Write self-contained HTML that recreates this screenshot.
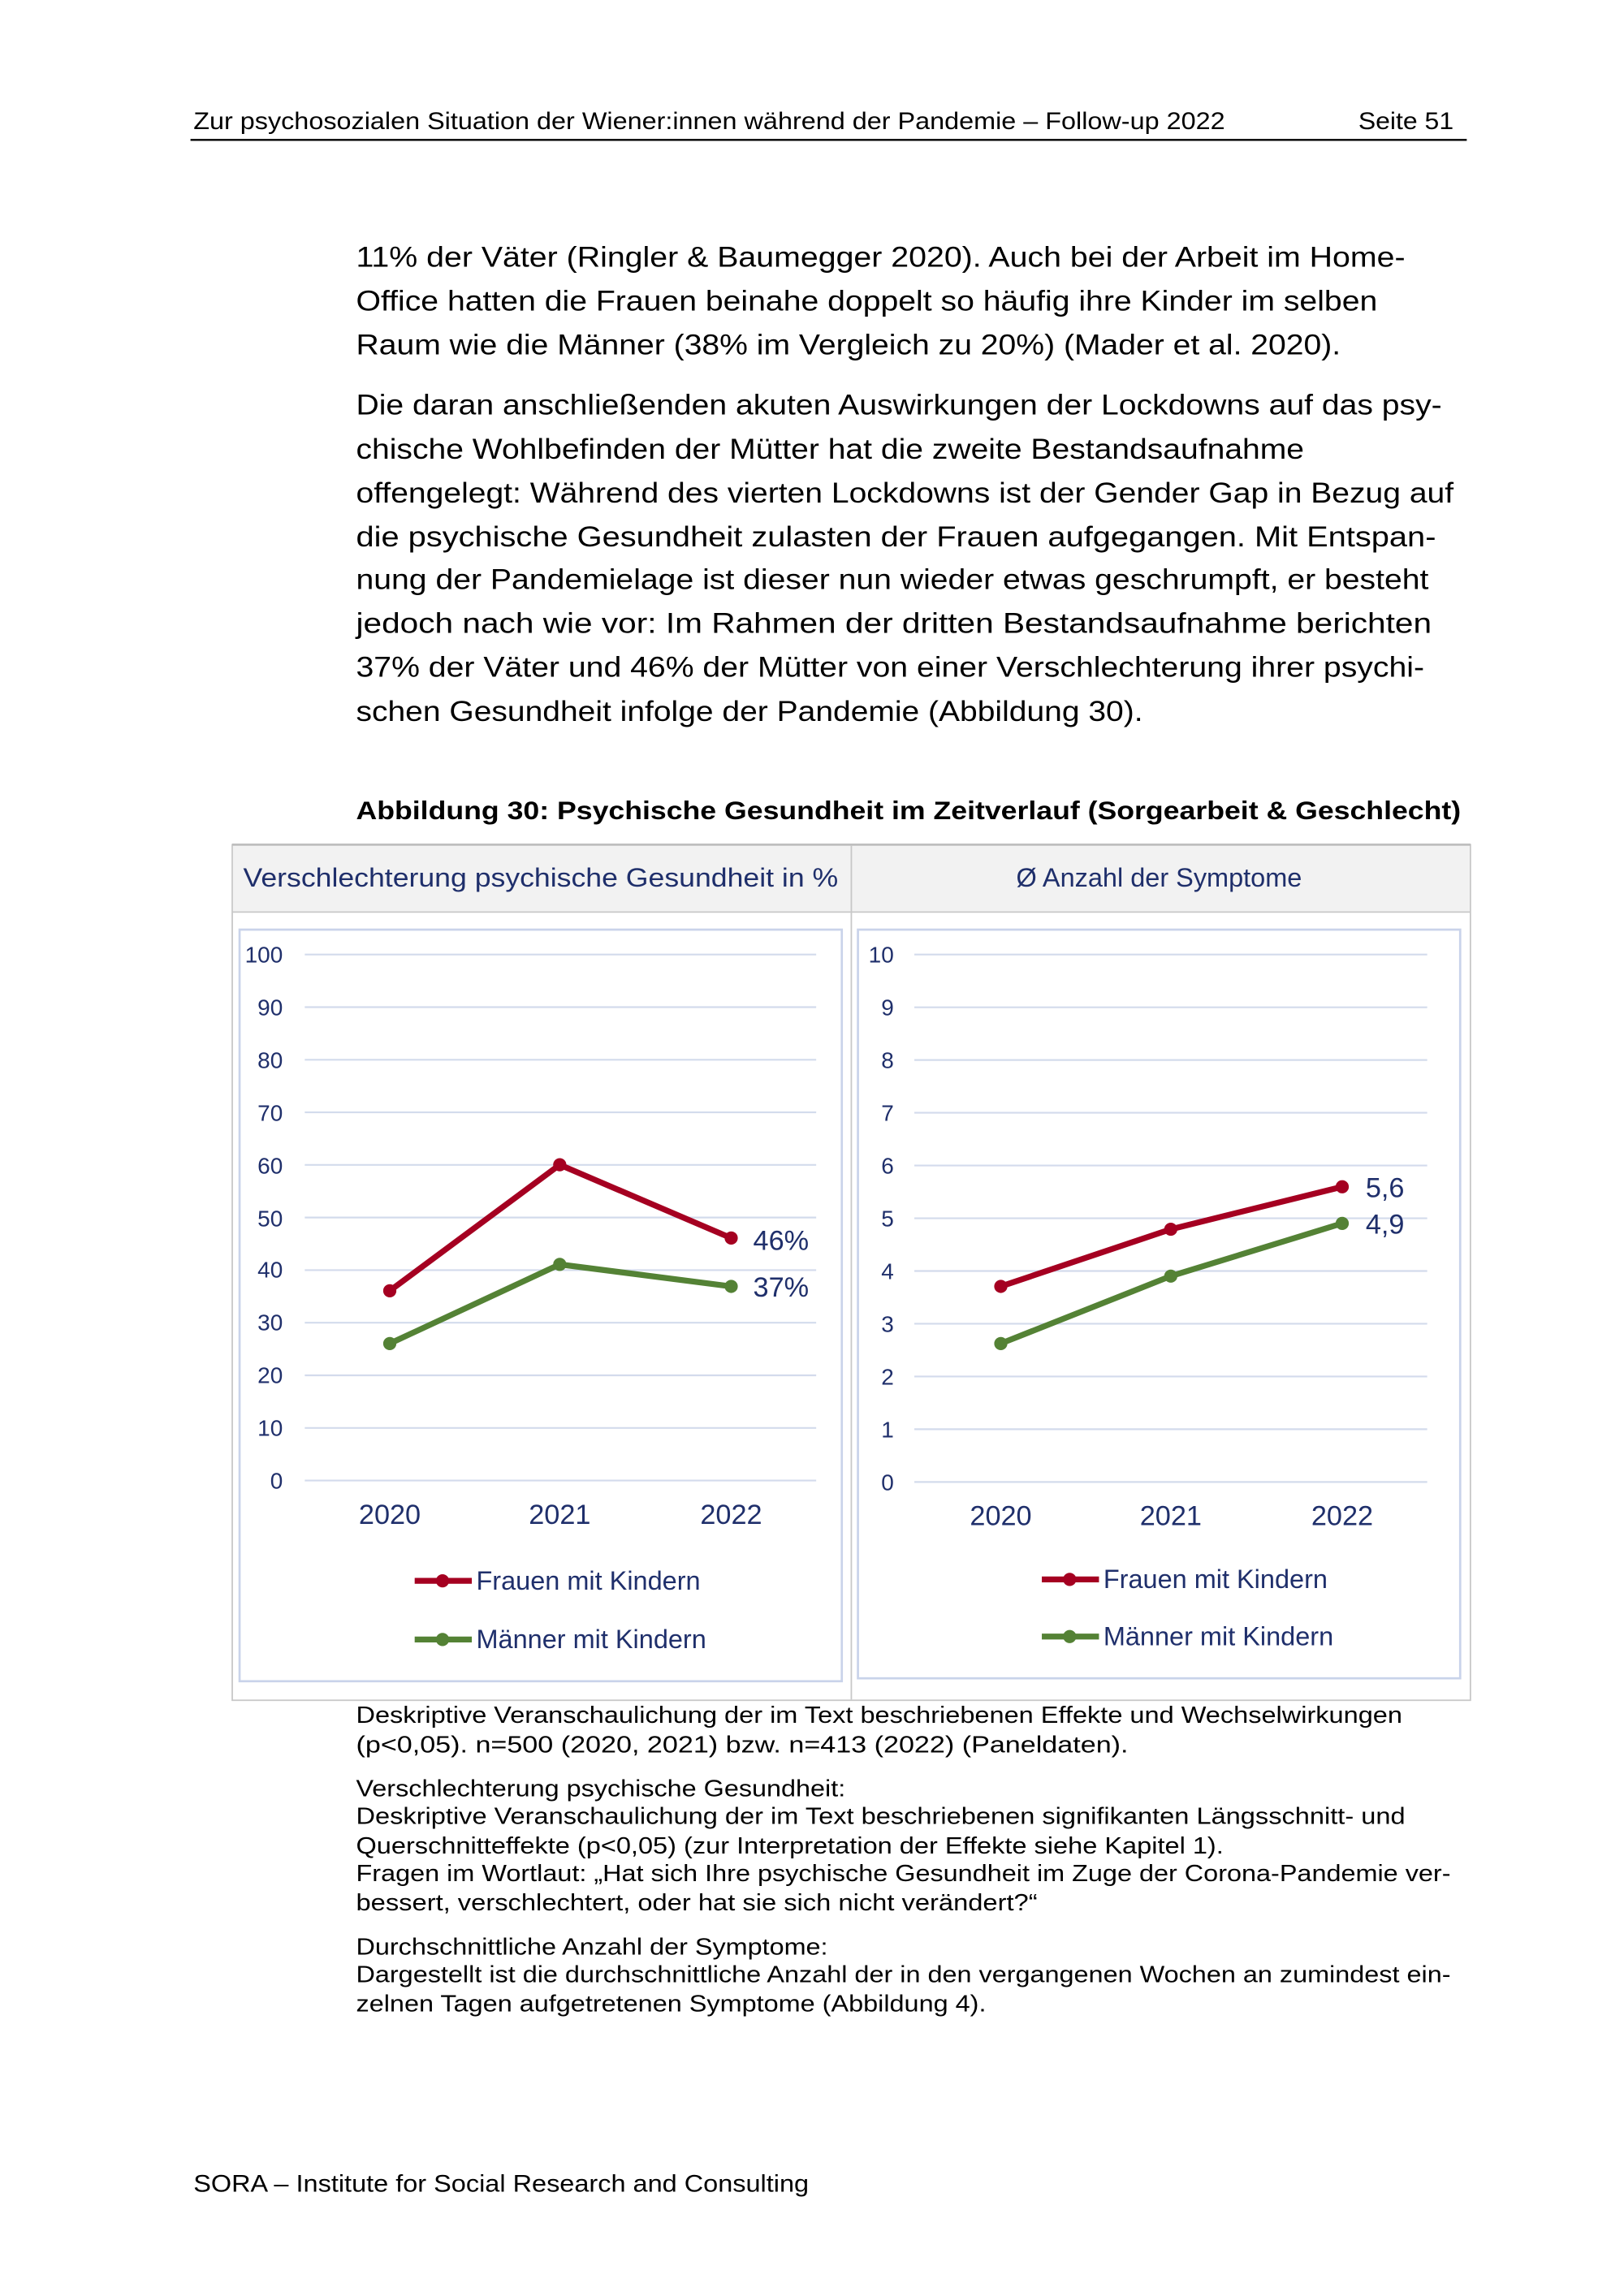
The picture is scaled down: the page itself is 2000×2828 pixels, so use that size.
<!DOCTYPE html>
<html><head><meta charset="utf-8"><style>
html,body{margin:0;padding:0;background:#fff;}
svg{display:block;}
text{font-family:"Liberation Sans",sans-serif;}
.b{font-size:19.5px;fill:#000;}
.n{font-size:16px;fill:#000;}
.ax{font-size:15.5px;fill:#1F2F6B;}
.yr{font-size:19px;fill:#1F2F6B;}
.lg{font-size:18px;fill:#1F2F6B;}
</style></head><body>
<svg width="2000" height="2828" viewBox="0 0 1108.3 1567.1" preserveAspectRatio="none" xmlns="http://www.w3.org/2000/svg">
<rect width="1108.3" height="1567.1" fill="#fff"/>
<text x="132" y="88" font-size="16.5" textLength="704" lengthAdjust="spacingAndGlyphs">Zur psychosozialen Situation der Wiener:innen während der Pandemie – Follow-up 2022</text>
<text x="927" y="88" font-size="16.5" textLength="65" lengthAdjust="spacingAndGlyphs">Seite 51</text>
<line x1="130" y1="95.5" x2="1001" y2="95.5" stroke="#000" stroke-width="1.3"/>

<g class="b">
<text x="243" y="182" textLength="716" lengthAdjust="spacingAndGlyphs">11% der Väter (Ringler &amp; Baumegger 2020). Auch bei der Arbeit im Home-</text>
<text x="243" y="212" textLength="697" lengthAdjust="spacingAndGlyphs">Office hatten die Frauen beinahe doppelt so häufig ihre Kinder im selben</text>
<text x="243" y="242" textLength="672" lengthAdjust="spacingAndGlyphs">Raum wie die Männer (38% im Vergleich zu 20%) (Mader et al. 2020).</text>
<text x="243" y="283" textLength="741" lengthAdjust="spacingAndGlyphs">Die daran anschließenden akuten Auswirkungen der Lockdowns auf das psy-</text>
<text x="243" y="313" textLength="647" lengthAdjust="spacingAndGlyphs">chische Wohlbefinden der Mütter hat die zweite Bestandsaufnahme</text>
<text x="243" y="343" textLength="749" lengthAdjust="spacingAndGlyphs">offengelegt: Während des vierten Lockdowns ist der Gender Gap in Bezug auf</text>
<text x="243" y="373" textLength="737" lengthAdjust="spacingAndGlyphs">die psychische Gesundheit zulasten der Frauen aufgegangen. Mit Entspan-</text>
<text x="243" y="402" textLength="732" lengthAdjust="spacingAndGlyphs">nung der Pandemielage ist dieser nun wieder etwas geschrumpft, er besteht</text>
<text x="243" y="432" textLength="734" lengthAdjust="spacingAndGlyphs">jedoch nach wie vor: Im Rahmen der dritten Bestandsaufnahme berichten</text>
<text x="243" y="462" textLength="729" lengthAdjust="spacingAndGlyphs">37% der Väter und 46% der Mütter von einer Verschlechterung ihrer psychi-</text>
<text x="243" y="492" textLength="537" lengthAdjust="spacingAndGlyphs">schen Gesundheit infolge der Pandemie (Abbildung 30).</text>
</g>
<text x="243" y="559" font-size="17.5" font-weight="bold" textLength="754" lengthAdjust="spacingAndGlyphs">Abbildung 30: Psychische Gesundheit im Zeitverlauf (Sorgearbeit &amp; Geschlecht)</text>

<rect x="158.5" y="576.5" width="845" height="584" fill="#fff" stroke="#C8C8C8" stroke-width="1"/>
<rect x="159" y="577" width="844" height="45" fill="#F2F2F2"/>
<line x1="158.5" y1="576.5" x2="1003.5" y2="576.5" stroke="#BEBEBE" stroke-width="1.5"/>
<line x1="158.5" y1="622.5" x2="1003.5" y2="622.5" stroke="#C8C8C8"/>
<line x1="581" y1="577" x2="581" y2="1160" stroke="#C8C8C8"/>
<text x="166" y="605" font-size="18" fill="#1F2F6B" textLength="406" lengthAdjust="spacingAndGlyphs">Verschlechterung psychische Gesundheit in %</text>
<text x="791" y="605" font-size="18" fill="#1F2F6B" text-anchor="middle">Ø Anzahl der Symptome</text>
<rect x="163.5" y="634.5" width="411" height="513" fill="none" stroke="#C9D3EA" stroke-width="1.5"/>
<rect x="585.5" y="634.5" width="411" height="511" fill="none" stroke="#C9D3EA" stroke-width="1.5"/>

<g stroke="#D3DBEC" stroke-width="1.2">
<line x1="208" y1="651.5" x2="557" y2="651.5"/><line x1="208" y1="687.4" x2="557" y2="687.4"/>
<line x1="208" y1="723.3" x2="557" y2="723.3"/><line x1="208" y1="759.2" x2="557" y2="759.2"/>
<line x1="208" y1="795.1" x2="557" y2="795.1"/><line x1="208" y1="831" x2="557" y2="831"/>
<line x1="208" y1="866.9" x2="557" y2="866.9"/><line x1="208" y1="902.8" x2="557" y2="902.8"/>
<line x1="208" y1="938.7" x2="557" y2="938.7"/><line x1="208" y1="974.6" x2="557" y2="974.6"/>
<line x1="208" y1="1010.5" x2="557" y2="1010.5"/>
</g>
<g class="ax" text-anchor="end">
<text x="193" y="657">100</text><text x="193" y="693">90</text><text x="193" y="729">80</text>
<text x="193" y="765">70</text><text x="193" y="801">60</text><text x="193" y="837">50</text>
<text x="193" y="872">40</text><text x="193" y="908">30</text><text x="193" y="944">20</text>
<text x="193" y="980">10</text><text x="193" y="1016">0</text>
</g>
<g class="yr" text-anchor="middle"><text x="266" y="1040">2020</text><text x="382" y="1040">2021</text><text x="499" y="1040">2022</text></g>
<polyline points="266,881 382,795 499,845" fill="none" stroke="#A50021" stroke-width="4"/>
<polyline points="266,917 382,863 499,878" fill="none" stroke="#548235" stroke-width="4"/>
<g fill="#A50021"><circle cx="266" cy="881" r="4.5"/><circle cx="382" cy="795" r="4.5"/><circle cx="499" cy="845" r="4.5"/></g>
<g fill="#548235"><circle cx="266" cy="917" r="4.5"/><circle cx="382" cy="863" r="4.5"/><circle cx="499" cy="878" r="4.5"/></g>
<text x="514" y="853" class="yr" font-size="18">46%</text>
<text x="514" y="885" class="yr" font-size="18">37%</text>
<line x1="283" y1="1079" x2="322" y2="1079" stroke="#A50021" stroke-width="4"/><circle cx="302" cy="1079" r="4.5" fill="#A50021"/>
<text x="325" y="1085" class="lg">Frauen mit Kindern</text>
<line x1="283" y1="1119" x2="322" y2="1119" stroke="#548235" stroke-width="4"/><circle cx="302" cy="1119" r="4.5" fill="#548235"/>
<text x="325" y="1125" class="lg">Männer mit Kindern</text>

<g stroke="#D3DBEC" stroke-width="1.2">
<line x1="624" y1="651.5" x2="974" y2="651.5"/><line x1="624" y1="687.5" x2="974" y2="687.5"/>
<line x1="624" y1="723.5" x2="974" y2="723.5"/><line x1="624" y1="759.5" x2="974" y2="759.5"/>
<line x1="624" y1="795.5" x2="974" y2="795.5"/><line x1="624" y1="831.5" x2="974" y2="831.5"/>
<line x1="624" y1="867.5" x2="974" y2="867.5"/><line x1="624" y1="903.5" x2="974" y2="903.5"/>
<line x1="624" y1="939.5" x2="974" y2="939.5"/><line x1="624" y1="975.5" x2="974" y2="975.5"/>
<line x1="624" y1="1011.5" x2="974" y2="1011.5"/>
</g>
<g class="ax" text-anchor="end">
<text x="610" y="657">10</text><text x="610" y="693">9</text><text x="610" y="729">8</text>
<text x="610" y="765">7</text><text x="610" y="801">6</text><text x="610" y="837">5</text>
<text x="610" y="873">4</text><text x="610" y="909">3</text><text x="610" y="945">2</text>
<text x="610" y="981">1</text><text x="610" y="1017">0</text>
</g>
<g class="yr" text-anchor="middle"><text x="683" y="1041">2020</text><text x="799" y="1041">2021</text><text x="916" y="1041">2022</text></g>
<polyline points="683,878 799,839 916,810" fill="none" stroke="#A50021" stroke-width="4"/>
<polyline points="683,917 799,871 916,835" fill="none" stroke="#548235" stroke-width="4"/>
<g fill="#A50021"><circle cx="683" cy="878" r="4.5"/><circle cx="799" cy="839" r="4.5"/><circle cx="916" cy="810" r="4.5"/></g>
<g fill="#548235"><circle cx="683" cy="917" r="4.5"/><circle cx="799" cy="871" r="4.5"/><circle cx="916" cy="835" r="4.5"/></g>
<text x="932" y="817" class="yr" font-size="18">5,6</text>
<text x="932" y="842" class="yr" font-size="18">4,9</text>
<line x1="711" y1="1078" x2="750" y2="1078" stroke="#A50021" stroke-width="4"/><circle cx="730" cy="1078" r="4.5" fill="#A50021"/>
<text x="753" y="1084" class="lg">Frauen mit Kindern</text>
<line x1="711" y1="1117" x2="750" y2="1117" stroke="#548235" stroke-width="4"/><circle cx="730" cy="1117" r="4.5" fill="#548235"/>
<text x="753" y="1123" class="lg">Männer mit Kindern</text>

<g class="n">
<text x="243" y="1176" textLength="714" lengthAdjust="spacingAndGlyphs">Deskriptive Veranschaulichung der im Text beschriebenen Effekte und Wechselwirkungen</text>
<text x="243" y="1196" textLength="527" lengthAdjust="spacingAndGlyphs">(p&lt;0,05). n=500 (2020, 2021) bzw. n=413 (2022) (Paneldaten).</text>
<text x="243" y="1226" textLength="334" lengthAdjust="spacingAndGlyphs">Verschlechterung psychische Gesundheit:</text>
<text x="243" y="1245" textLength="716" lengthAdjust="spacingAndGlyphs">Deskriptive Veranschaulichung der im Text beschriebenen signifikanten Längsschnitt- und</text>
<text x="243" y="1265" textLength="592" lengthAdjust="spacingAndGlyphs">Querschnitteffekte (p&lt;0,05) (zur Interpretation der Effekte siehe Kapitel 1).</text>
<text x="243" y="1284" textLength="747" lengthAdjust="spacingAndGlyphs">Fragen im Wortlaut: „Hat sich Ihre psychische Gesundheit im Zuge der Corona-Pandemie ver-</text>
<text x="243" y="1304" textLength="465" lengthAdjust="spacingAndGlyphs">bessert, verschlechtert, oder hat sie sich nicht verändert?“</text>
<text x="243" y="1334" textLength="322" lengthAdjust="spacingAndGlyphs">Durchschnittliche Anzahl der Symptome:</text>
<text x="243" y="1353" textLength="747" lengthAdjust="spacingAndGlyphs">Dargestellt ist die durchschnittliche Anzahl der in den vergangenen Wochen an zumindest ein-</text>
<text x="243" y="1373" textLength="430" lengthAdjust="spacingAndGlyphs">zelnen Tagen aufgetretenen Symptome (Abbildung 4).</text>
</g>
<text x="132" y="1496" font-size="16.5" textLength="420" lengthAdjust="spacingAndGlyphs">SORA – Institute for Social Research and Consulting</text>
</svg>
</body></html>
